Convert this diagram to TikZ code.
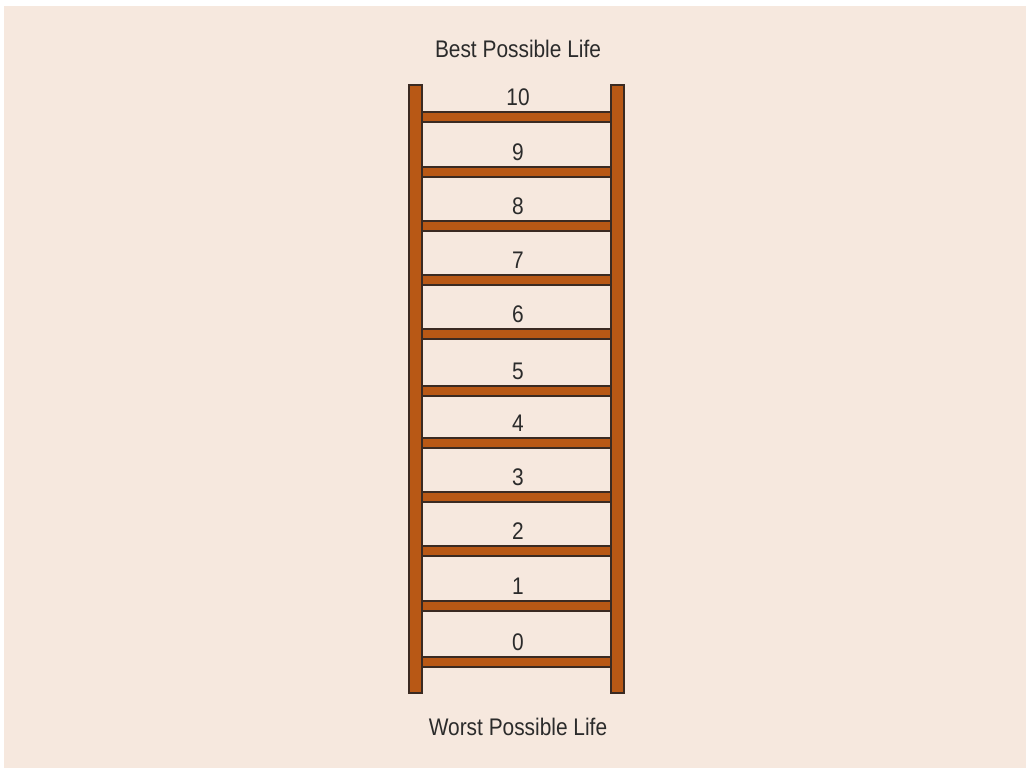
\documentclass[tikz,border=0pt]{standalone}
\usepackage{fontspec}
\setmainfont{Liberation Sans}[FakeStretch=0.87]
\usetikzlibrary{positioning}
\definecolor{bgpeach}{HTML}{F6E8DE}
\definecolor{rust}{HTML}{B85815}
\definecolor{edgebrown}{HTML}{3A2A22}
\definecolor{textgray}{HTML}{2B2B2B}

\begin{document}
\begin{tikzpicture}[x=1pt,y=-1pt,
  wood/.style={fill=rust,draw=edgebrown,line width=1.3pt},
  lbl/.style={text=textgray,font=\fontsize{24}{28}\selectfont,inner sep=0pt}]
\useasboundingbox (0,0) rectangle (1026,768);
% background
\fill[bgpeach] (4,6) rectangle (1026,768);
% rails
\draw[wood] (409,85) rectangle (422,693);
\draw[wood] (611,85) rectangle (624,693);
% rungs with their numbers
\foreach \n/\y in {10/112,9/167,8/221,7/275,6/329,5/386,4/438,3/492,2/546,1/601,0/657} {
  \draw[wood] (422,\y) rectangle (611,\y+10);
  \node[lbl] (rung\n) at (518,\y-14.5) {\n};
}
% end labels
\node[lbl,anchor=base] (best) at (518,58) {Best Possible Life};
\node[lbl,anchor=base] (worst) at (518,735) {Worst Possible Life};
\end{tikzpicture}
\end{document}
